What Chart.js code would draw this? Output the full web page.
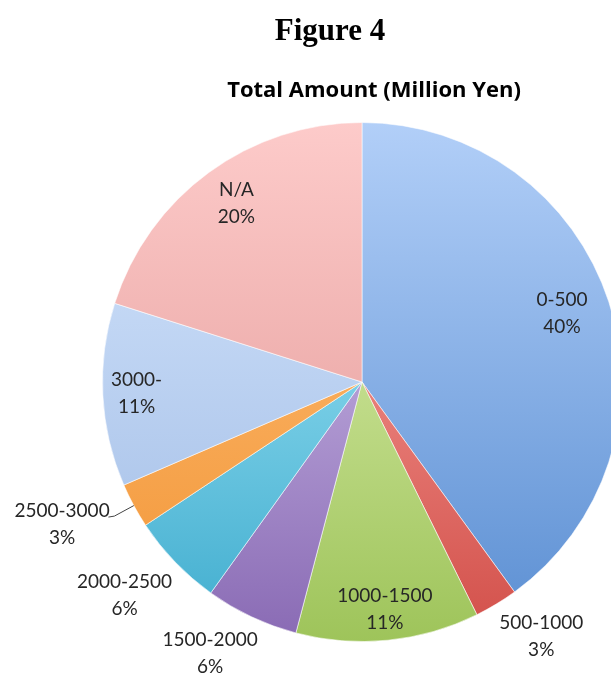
<!DOCTYPE html>
<html>
<head>
<meta charset="utf-8">
<script src="https://cdn.jsdelivr.net/npm/chart.js@4.4.1/dist/chart.umd.min.js"></script>
<style>
  html, body { margin: 0; padding: 0; background: #fff; overflow: hidden; }
  #wrap { position: relative; width: 611px; height: 675px; overflow: hidden; }
  #pie { position: absolute; left: 0; top: 0; }
</style>
</head>
<body>
<div id="wrap">
  <canvas id="pie" width="724" height="675"></canvas>
</div>
<script>
const categories = ["0-500", "500-1000", "1000-1500", "1500-2000", "2000-2500", "2500-3000", "3000-", "N/A"]
const shares = [40, 2.7, 11.4, 5.8, 5.8, 2.8, 11.4, 20.1]

// gradient stops, top of pie -> bottom of pie
const topColors = ["#b2cff8", "#ffb0ab", "#e6f5bd", "#dccff4", "#b2f0fe", "#ffc27e", "#d5e6fd", "#fdcbca"]
const bottomColors = ["#5a8ed2", "#d24f49", "#9ec45a", "#896ab4", "#3facce", "#f29535", "#a1bce5", "#e09492"]

// label placement: radius ratio and angle nudge (degrees)
const labelRadius = [0.815, 1.2, 0.88, 1.2, 1.23, 1.28, 0.87, 0.84]
const labelNudge = [-1, -4, 0, 4, 2, 3, 0, 1]

const total = shares.reduce((a, b) => a + b, 0)

const sliceFill = (ctx) => {
  const area = ctx.chart.chartArea
  const i = ctx.dataIndex
  if (!area) return topColors[i]
  const g = ctx.chart.ctx.createLinearGradient(0, area.top, 0, area.bottom)
  g.addColorStop(0, topColors[i])
  g.addColorStop(1, bottomColors[i])
  return g
}

const labelPlugin = {
  id: "sliceLabels",
  afterDatasetsDraw(chart) {
    const { ctx } = chart
    const arcs = chart.getDatasetMeta(0).data
    ctx.save()
    ctx.font = "19px Lato, 'Open Sans', sans-serif"
    ctx.fillStyle = "#262626"
    ctx.textAlign = "center"
    ctx.textBaseline = "middle"
    arcs.forEach((arc, i) => {
      const { x, y, startAngle, endAngle, outerRadius } = arc.getProps(["x", "y", "startAngle", "endAngle", "outerRadius"], true)
      const mid = (startAngle + endAngle) / 2 + labelNudge[i] * Math.PI / 180
      const r = outerRadius * labelRadius[i]
      const lx = x + Math.cos(mid) * r
      const ly = y + Math.sin(mid) * r
      const pct = Math.round(shares[i] / total * 100) + "%"
      ctx.fillText(categories[i], lx, ly - 13.5)
      ctx.fillText(pct, lx, ly + 13.5)

      if (categories[i] === "2500-3000") {
        const a = (startAngle + endAngle) / 2
        ctx.strokeStyle = "#444"
        ctx.lineWidth = 1
        ctx.beginPath()
        ctx.moveTo(x + Math.cos(a) * outerRadius, y + Math.sin(a) * outerRadius)
        ctx.lineTo(x + Math.cos(a) * outerRadius * 1.085, y + Math.sin(a) * outerRadius * 1.085)
        ctx.lineTo(x + Math.cos(a) * outerRadius * 1.085 - 6, y + Math.sin(a) * outerRadius * 1.085 + 1)
        ctx.stroke()
      }
    })

    // headings
    ctx.textBaseline = "alphabetic"
    ctx.fillStyle = "#000"
    ctx.font = "bold 31px 'Liberation Serif', 'Times New Roman', serif"
    ctx.fillText("Figure 4", 330, 40)
    ctx.font = "bold 22px 'Open Sans', Lato, sans-serif"
    ctx.fillText("Total Amount (Million Yen)", 374, 97)
    ctx.restore()
  },
}

new Chart(document.getElementById("pie"), {
  type: "pie",
  data: {
    labels: categories,
    datasets: [
      {
        data: shares,
        backgroundColor: sliceFill,
        borderColor: "rgba(255,255,255,0.55)",
        borderWidth: 1,
      },
    ],
  },
  options: {
    responsive: false,
    animation: false,
    devicePixelRatio: 1,
    layout: { padding: { left: 102, right: 102, top: 122, bottom: 33 } },
    plugins: {
      legend: { display: false },
      tooltip: { enabled: false },
      title: { display: false },
    },
  },
  plugins: [labelPlugin],
})
</script>
</body>
</html>
